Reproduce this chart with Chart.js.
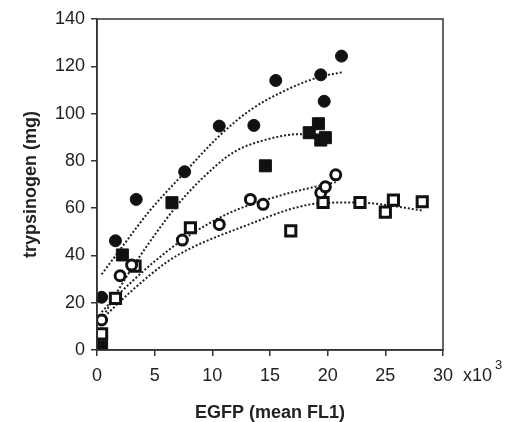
<!DOCTYPE html>
<html>
<head>
<meta charset="utf-8">
<script src="https://cdn.jsdelivr.net/npm/chart.js@4.4.0/dist/chart.umd.min.js"></script>
<style>
    html, body { margin: 0; padding: 0; background: #fff; }
    #wrap { width: 508px; height: 422px; }
</style>
</head>
<body>
<div id="wrap"><canvas id="chart" width="508" height="422"></canvas></div>
<script>
// measured points (x in units of 10^3)
var filledCircleX = [0.4, 1.6, 3.4, 7.6, 10.6, 13.6, 15.5, 19.4, 19.7, 21.2];
var filledCircleY = [22.3, 46.2, 63.7, 75.4, 94.7, 95, 114, 116.4, 105.2, 124.3];

var filledSquareX = [0.4, 2.2, 6.5, 14.6, 18.4, 19.2, 19.4, 19.8];
var filledSquareY = [1.4, 40.2, 62.3, 77.9, 91.9, 95.7, 88.8, 89.8];

var openCircleX = [0.4, 2.0, 3.0, 7.4, 10.6, 13.3, 14.4, 19.4, 19.8, 20.7];
var openCircleY = [12.7, 31.4, 35.9, 46.5, 53.1, 63.7, 61.6, 66.5, 69, 74.1];

var openSquareX = [0.4, 1.6, 3.3, 8.1, 16.8, 19.6, 22.8, 25.0, 25.7, 28.2];
var openSquareY = [6.8, 21.8, 35.5, 51.7, 50.4, 62.4, 62.4, 58.3, 63.4, 62.7];

// trend curves
var fitFilledCircleX = [0.4, 2.7, 4.5, 7.2, 10.7, 13.3, 16.2, 19.3, 21.3];
var fitFilledCircleY = [32, 47, 58.5, 73, 91, 101.5, 109.5, 115.5, 117.5];

var fitFilledSquareX = [0.4, 1.8, 3.3, 5.2, 7.0, 9.0, 11.8, 14.7, 17.6, 19.7];
var fitFilledSquareY = [13, 25, 36.6, 50, 61.5, 72, 83.5, 89, 91.3, 90.8];

var fitOpenCircleX = [0.4, 1.3, 3.0, 5.0, 7.4, 11.4, 16.0, 19.5, 20.7];
var fitOpenCircleY = [16, 20.8, 28.8, 37.5, 46.5, 57.8, 65.5, 69.7, 71];

var fitOpenSquareX = [0.4, 3.0, 6.0, 8.1, 13.0, 17.0, 19.6, 22.5, 24.5, 28.2];
var fitOpenSquareY = [13, 25, 37, 43, 52.8, 59.9, 62.2, 62.4, 61.7, 59];

var xTicks = [0, 5, 10, 15, 20, 25, 30];
var yTicks = [0, 20, 40, 60, 80, 100, 120, 140];

var fontFamily = '"Liberation Sans", Arial, sans-serif';

function toPoints(xs, ys) {
    return xs.map((x, i) => ({ x: x, y: ys[i] }));
}

function pointSet(xs, ys, style, radius, fill, width) {
    return {
        type: 'scatter',
        data: toPoints(xs, ys),
        pointStyle: style,
        pointRadius: radius,
        pointBackgroundColor: fill,
        pointBorderColor: '#111',
        pointBorderWidth: width,
        showLine: false
    };
}

function fitSet(xs, ys) {
    return {
        type: 'line',
        data: toPoints(xs, ys),
        borderColor: '#222',
        borderWidth: 2,
        borderDash: [2, 2],
        pointRadius: 0,
        cubicInterpolationMode: 'monotone',
        fill: false
    };
}

// frame around the plot area plus the x10^3 note after the last tick
const framePlugin = {
    id: 'frame',
    afterDraw: (chart) => {
        var { ctx, chartArea } = chart;
        ctx.save();
        ctx.strokeStyle = '#333';
        ctx.lineWidth = 1.5;
        ctx.strokeRect(chartArea.left, chartArea.top, chartArea.right - chartArea.left, chartArea.bottom - chartArea.top);
        ctx.fillStyle = '#222';
        ctx.textBaseline = 'middle';
        ctx.font = '18px ' + fontFamily;
        ctx.fillText('x10', chartArea.right + 20, 376);
        ctx.font = '13px ' + fontFamily;
        ctx.fillText('3', chartArea.right + 52, 365);
        ctx.restore();
    }
};

var ctx = document.getElementById('chart');
new Chart(ctx, {
    data: {
        datasets: [
            pointSet(filledCircleX, filledCircleY, 'circle', 6, '#111', 1),
            pointSet(filledSquareX, filledSquareY, 'rect', 8.5, '#111', 1),
            pointSet(openCircleX, openCircleY, 'circle', 5, '#fff', 3),
            pointSet(openSquareX, openSquareY, 'rect', 7.2, '#fff', 3),
            fitSet(fitFilledCircleX, fitFilledCircleY),
            fitSet(fitFilledSquareX, fitFilledSquareY),
            fitSet(fitOpenCircleX, fitOpenCircleY),
            fitSet(fitOpenSquareX, fitOpenSquareY)
        ]
    },
    options: {
        responsive: false,
        animation: false,
        layout: { padding: { top: 19, right: 65, left: 0, bottom: 0 } },
        plugins: {
            legend: { display: false },
            tooltip: { enabled: false }
        },
        scales: {
            x: {
                type: 'linear',
                min: 0,
                max: 30,
                afterBuildTicks: (axis) => { axis.ticks = xTicks.map(v => ({ value: v })); },
                afterFit: (axis) => { axis.height = 72; },
                grid: { drawOnChartArea: false, tickLength: 6, tickColor: '#333', lineWidth: 1.5 },
                border: { color: '#333', width: 1.5 },
                ticks: {
                    color: '#222',
                    padding: 9,
                    maxRotation: 0,
                    font: { family: fontFamily, size: 18 }
                },
                title: {
                    display: true,
                    text: 'EGFP (mean FL1)',
                    color: '#222',
                    padding: { top: 21, bottom: -2 },
                    font: { family: fontFamily, size: 18, weight: 'bold' }
                }
            },
            y: {
                type: 'linear',
                min: 0,
                max: 140,
                afterBuildTicks: (axis) => { axis.ticks = yTicks.map(v => ({ value: v })); },
                afterFit: (axis) => { axis.width = 97; },
                grid: { drawOnChartArea: false, tickLength: 6, tickColor: '#333', lineWidth: 1.5 },
                border: { color: '#333', width: 1.5 },
                ticks: {
                    color: '#222',
                    padding: 6,
                    font: { family: fontFamily, size: 18 }
                },
                title: {
                    display: true,
                    text: 'trypsinogen (mg)',
                    color: '#222',
                    padding: { top: 20, bottom: 4 },
                    font: { family: fontFamily, size: 18, weight: 'bold' }
                }
            }
        }
    },
    plugins: [framePlugin]
});
</script>
</body>
</html>
